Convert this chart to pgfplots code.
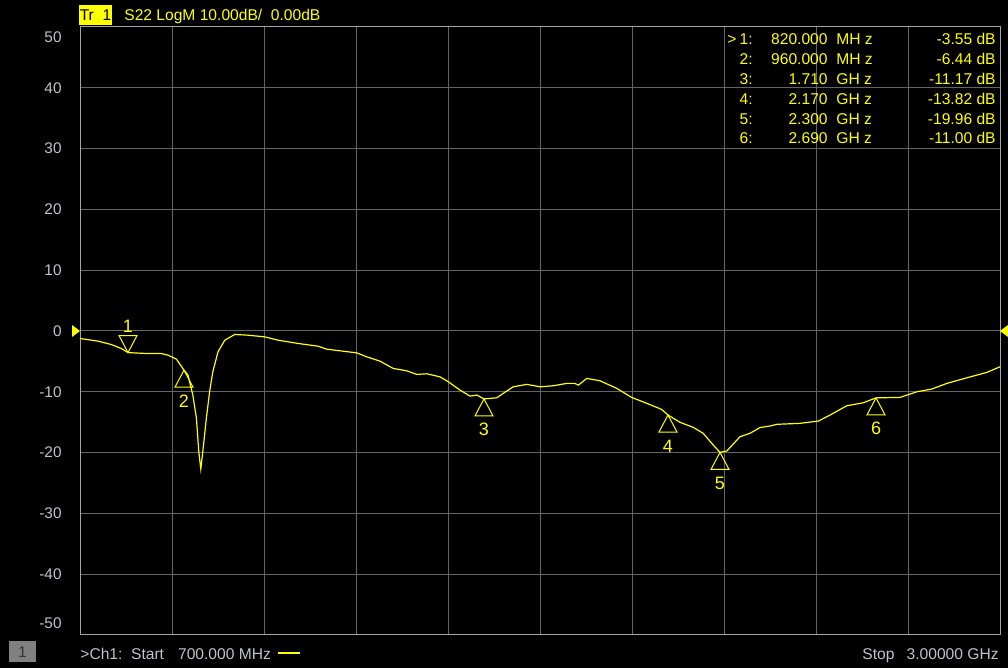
\documentclass[border=0pt]{standalone}
\usepackage{fontspec}
\setmainfont{Liberation Sans}
\usepackage{pgfplots}
\pgfplotsset{compat=1.18}
\definecolor{trace}{RGB}{255,255,0}
\definecolor{gridc}{RGB}{100,100,100}
\definecolor{borderc}{RGB}{165,165,165}
\definecolor{labelc}{RGB}{190,195,200}
\definecolor{boxgray}{RGB}{128,128,128}
\pgfdeclareplotmark{mkup}{%
  \pgfpathmoveto{\pgfqpoint{0pt}{0pt}}%
  \pgfpathlineto{\pgfqpoint{-4.5pt}{-8.5pt}}%
  \pgfpathlineto{\pgfqpoint{4.5pt}{-8.5pt}}%
  \pgfpathclose\pgfusepathqstroke}
\pgfdeclareplotmark{mkdown}{%
  \pgfpathmoveto{\pgfqpoint{0pt}{0pt}}%
  \pgfpathlineto{\pgfqpoint{-4.5pt}{8.5pt}}%
  \pgfpathlineto{\pgfqpoint{4.5pt}{8.5pt}}%
  \pgfpathclose\pgfusepathqstroke}
\tikzset{txt/.style={font=\fontsize{7.8}{9}\selectfont, inner sep=0pt, text height=5.6pt, text depth=0pt}}
\begin{document}
\begin{tikzpicture}
\fill[black] (0,0) rectangle (504pt,334pt);
\begin{axis}[at={(40pt,16.5pt)}, anchor=south west, scale only axis,
  width=460pt, height=304pt,
  xmin=700, xmax=3000, ymin=-50, ymax=50,
  xtick={930,1160,1390,1620,1850,2080,2310,2540,2770}, xticklabels={},
  ytick={-40,-30,...,40},
  extra y ticks={-48,48.4}, extra y tick labels={-50,50},
  extra y tick style={grid=none},
  grid=major, major grid style={gridc, line width=0.5pt},
  axis line style={borderc, line width=0.5pt},
  major tick length=0pt, tick style={draw=none},
  /pgf/number format/assume math mode=true,
  yticklabel style={font=\fontsize{7.7}{9}\selectfont, text=labelc, anchor=east, inner sep=0pt, xshift=-9pt},
  axis background/.style={fill=black}, clip=false]
\addplot[trace, line width=0.6pt] table {
x y
700 -1.23
745 -1.67
778 -2.22
803 -2.87
820 -3.55
862 -3.69
902 -3.69
920 -3.97
941 -4.63
960 -6.44
970 -7.26
982 -10.5
991 -14.3
997 -19.85
1002 -22.7
1007 -19.85
1016 -14.3
1024 -10.0
1032 -6.72
1045 -3.43
1062 -1.51
1087 -0.57
1120 -0.69
1162 -0.97
1195 -1.51
1245 -2.05
1295 -2.50
1317 -2.99
1392 -3.60
1417 -4.25
1450 -4.96
1483 -6.16
1517 -6.55
1542 -7.14
1567 -7.04
1600 -7.54
1621 -8.36
1650 -9.72
1675 -10.71
1692 -10.54
1710 -11.17
1742 -10.99
1758 -10.26
1783 -9.18
1817 -8.78
1850 -9.18
1883 -9.01
1917 -8.62
1937 -8.62
1946 -8.90
1967 -7.80
2000 -8.19
2042 -9.44
2079 -10.92
2117 -11.90
2154 -12.89
2170 -13.82
2200 -15.02
2233 -15.85
2258 -16.83
2283 -18.75
2300 -19.96
2317 -19.74
2350 -17.39
2375 -16.83
2400 -15.88
2425 -15.63
2442 -15.35
2500 -15.19
2546 -14.81
2575 -13.83
2617 -12.30
2658 -11.81
2690 -11.00
2750 -10.92
2792 -10.00
2829 -9.56
2867 -8.62
2917 -7.70
2967 -6.81
3000 -5.89
};
\addplot[trace, line width=0.5pt, only marks, mark=mkdown,
  nodes near coords, point meta=explicit symbolic,
  nodes near coords style={anchor=center, yshift=13.2pt, text=trace, font=\fontsize{9}{10}\selectfont, inner sep=0pt}]
  coordinates {(820,-3.55) [1]};
\addplot[trace, line width=0.5pt, only marks, mark=mkup,
  nodes near coords, point meta=explicit symbolic,
  nodes near coords style={anchor=center, yshift=-15.4pt, text=trace, font=\fontsize{9}{10}\selectfont, inner sep=0pt}]
  coordinates {(960,-6.44) [2] (1710,-11.17) [3] (2170,-13.82) [4] (2300,-19.96) [5] (2690,-11.00) [6]};
\end{axis}
\begin{scope}[shift={(0pt,334pt)}, x=0.5pt, y=-0.5pt]
  % header
  \fill[trace] (79,5) rectangle (112,25);
  \node[txt, text=black] at (95.5,15) {Tr\ \ 1};
  \node[txt, text=trace, anchor=west] at (124,15) {S22 LogM 10.00dB/\ \ 0.00dB};
  % reference level arrows
  \fill[trace] (72,325) -- (80,331) -- (72,337) -- cycle;
  \fill[trace] (1008,325) -- (1000,331) -- (1008,337) -- cycle;
  % marker table
  \foreach \n/\f/\u/\v [count=\i from 0] in {1/820.000/MH z/-3.55, 2/960.000/MH z/-6.44, 3/1.710/GH z/-11.17, 4/2.170/GH z/-13.82, 5/2.300/GH z/-19.96, 6/2.690/GH z/-11.00}{
    \pgfmathsetmacro{\yy}{39+19.86*\i}
    \node[txt, text=trace, anchor=east] at (753,\yy) {\n:};
    \node[txt, text=trace, anchor=east] at (828,\yy) {\f};
    \node[txt, text=trace, anchor=west] at (836,\yy) {\u};
    \node[txt, text=trace, anchor=east] at (996,\yy) {\v\ dB};
  }
  \node[txt, text=trace] at (732,39) {>};
  % bottom bar
  \fill[boxgray] (9,641) rectangle (36,662);
  \node[txt, text=black!80] at (22.5,651.5) {1};
  \node[txt, text=labelc, anchor=west] at (80,654) {>Ch1:};
  \node[txt, text=labelc, anchor=west] at (130.7,654) {Start};
  \node[txt, text=labelc, anchor=west] at (177.7,654) {700.000 MHz};
  \draw[trace, line width=1pt] (278,653) -- (300,653);
  \node[txt, text=labelc, anchor=west] at (862,654) {Stop};
  \node[txt, text=labelc, anchor=east] at (999,654) {3.00000 GHz};
\end{scope}
\pgfresetboundingbox
\path (0,0) rectangle (504pt,334pt);
\end{tikzpicture}
\end{document}
